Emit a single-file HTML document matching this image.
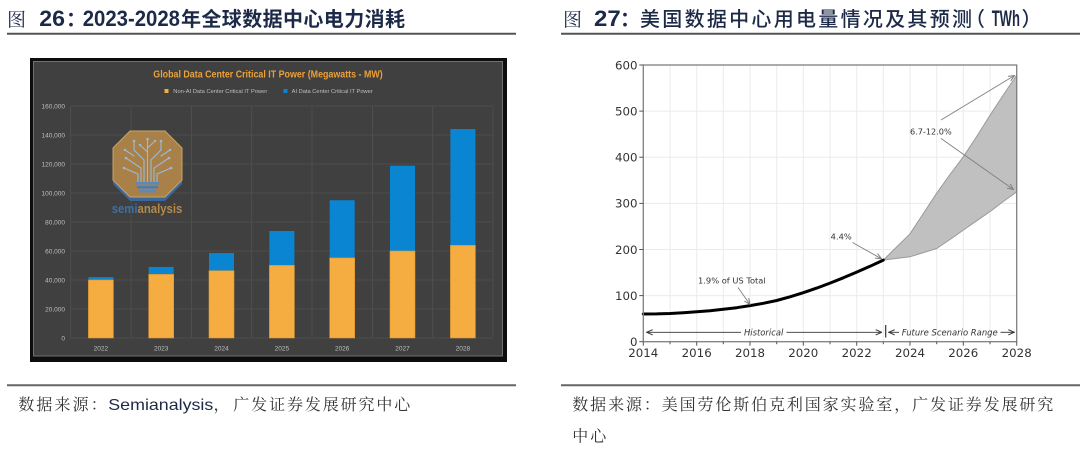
<!DOCTYPE html>
<html><head><meta charset="utf-8">
<style>
html,body{margin:0;padding:0;background:#fff;}
svg{display:block;}
</style></head><body>
<svg width="1080" height="452" viewBox="0 0 1080 452" xmlns="http://www.w3.org/2000/svg">
<defs>
<marker id="ad" markerUnits="userSpaceOnUse" markerWidth="8" markerHeight="8" viewBox="0 0 8 8" refX="7.5" refY="4" orient="auto"><path d="M1.5,1.4 L7.5,4 L1.5,6.6" fill="none" stroke="#333" stroke-width="1"/></marker>
<marker id="ag" markerUnits="userSpaceOnUse" markerWidth="8" markerHeight="8" viewBox="0 0 8 8" refX="7.5" refY="4" orient="auto"><path d="M1.5,1.4 L7.5,4 L1.5,6.6" fill="none" stroke="#808080" stroke-width="1"/></marker>
</defs>
<rect width="1080" height="452" fill="#fff"/>

<!-- ===== Titles ===== -->
<g fill="#1c2a48">
<text x="7" y="26" font-family="Noto Serif CJK SC, serif" font-size="19">图</text>
<text x="39.3" y="26" font-family="Liberation Sans, sans-serif" font-weight="bold" font-size="22" textLength="25.7" lengthAdjust="spacingAndGlyphs">26</text>
<text x="66" y="26" font-family="Noto Sans CJK SC, sans-serif" font-weight="bold" font-size="20">：</text>
<text x="82.7" y="26" font-family="Liberation Sans, sans-serif" font-weight="bold" font-size="22" textLength="97.3" lengthAdjust="spacingAndGlyphs">2023-2028</text>
<text x="181" y="26" font-family="Noto Sans CJK SC, sans-serif" font-weight="bold" font-size="20" textLength="224" lengthAdjust="spacing">年全球数据中心电力消耗</text>

<text x="563" y="26" font-family="Noto Serif CJK SC, serif" font-size="19">图</text>
<text x="594" y="26" font-family="Liberation Sans, sans-serif" font-weight="bold" font-size="22" textLength="26.7" lengthAdjust="spacingAndGlyphs">27</text>
<text x="620" y="26" font-family="Noto Sans CJK SC, sans-serif" font-weight="bold" font-size="20">：</text>
<text x="640" y="26" font-family="Noto Sans CJK SC, sans-serif" font-weight="500" font-size="20" textLength="332" lengthAdjust="spacing">美国数据中心用电量情况及其预测</text>
<text x="965" y="26" font-family="Noto Sans CJK SC, sans-serif" font-weight="500" font-size="20">（</text>
<text x="991.7" y="26" font-family="Liberation Sans, sans-serif" font-weight="bold" font-size="22" textLength="28.3" lengthAdjust="spacingAndGlyphs">TWh</text>
<text x="1021.5" y="26" font-family="Noto Sans CJK SC, sans-serif" font-weight="500" font-size="20">）</text>
</g>
<line x1="7" y1="33.8" x2="516" y2="33.8" stroke="#555" stroke-width="2"/>
<line x1="561" y1="33.8" x2="1080" y2="33.8" stroke="#555" stroke-width="2"/>

<!-- ===== Captions ===== -->
<line x1="7" y1="385.3" x2="516" y2="385.3" stroke="#666" stroke-width="2"/>
<line x1="561" y1="385.3" x2="1080" y2="385.3" stroke="#666" stroke-width="2"/>
<text x="18.3" y="410" font-family="Noto Serif CJK SC, serif" font-size="16" fill="#333" textLength="88.5" lengthAdjust="spacing">数据来源：</text>
<text x="108.3" y="410" font-family="Liberation Sans, sans-serif" font-size="16" fill="#1c2a48" textLength="105" lengthAdjust="spacingAndGlyphs">Semianalysis</text>
<text x="213.5" y="410" font-family="Noto Serif CJK SC, serif" font-size="16" fill="#333">，</text>
<text x="233.3" y="410" font-family="Noto Serif CJK SC, serif" font-size="16" fill="#333" textLength="177" lengthAdjust="spacing">广发证券发展研究中心</text>
<text x="572.3" y="410" font-family="Noto Serif CJK SC, serif" font-size="16" fill="#333" textLength="481" lengthAdjust="spacing">数据来源：美国劳伦斯伯克利国家实验室，广发证券发展研究</text>
<text x="572.3" y="441.5" font-family="Noto Serif CJK SC, serif" font-size="16" fill="#333" textLength="34" lengthAdjust="spacing">中心</text>

<!-- ===== Left chart ===== -->
<rect x="30" y="58" width="477" height="304" fill="#0d0d0d"/>
<rect x="33.5" y="61.5" width="469" height="294.5" fill="#404040" stroke="#707070" stroke-width="1"/>
<g stroke="#515151" stroke-width="0.8">
<line x1="70.7" y1="338" x2="493" y2="338"/>
<line x1="70.7" y1="309" x2="493" y2="309"/>
<line x1="70.7" y1="280" x2="493" y2="280"/>
<line x1="70.7" y1="251" x2="493" y2="251"/>
<line x1="70.7" y1="222" x2="493" y2="222"/>
<line x1="70.7" y1="193" x2="493" y2="193"/>
<line x1="70.7" y1="164" x2="493" y2="164"/>
<line x1="70.7" y1="135" x2="493" y2="135"/>
<line x1="70.7" y1="106" x2="493" y2="106"/>
<line x1="70.7" y1="106" x2="70.7" y2="338"/>
<line x1="131" y1="106" x2="131" y2="338"/>
<line x1="191.4" y1="106" x2="191.4" y2="338"/>
<line x1="251.7" y1="106" x2="251.7" y2="338"/>
<line x1="312" y1="106" x2="312" y2="338"/>
<line x1="372.4" y1="106" x2="372.4" y2="338"/>
<line x1="432.7" y1="106" x2="432.7" y2="338"/>
<line x1="493" y1="106" x2="493" y2="338"/>
</g>
<g font-family="Liberation Sans, sans-serif" font-size="6.5" fill="#bfbfbf" text-anchor="end">
<text x="65" y="340.3">0</text>
<text x="65" y="311.3">20,000</text>
<text x="65" y="282.3">40,000</text>
<text x="65" y="253.3">60,000</text>
<text x="65" y="224.3">80,000</text>
<text x="65" y="195.3">100,000</text>
<text x="65" y="166.3">120,000</text>
<text x="65" y="137.3">140,000</text>
<text x="65" y="108.3">160,000</text>
</g>
<g font-family="Liberation Sans, sans-serif" font-size="6.5" fill="#bfbfbf" text-anchor="middle">
<text x="100.9" y="350.3">2022</text>
<text x="161.2" y="350.3">2023</text>
<text x="221.5" y="350.3">2024</text>
<text x="281.9" y="350.3">2025</text>
<text x="342.2" y="350.3">2026</text>
<text x="402.5" y="350.3">2027</text>
<text x="462.9" y="350.3">2028</text>
</g>

<!-- logo -->
<polygon points="130,135 165,135 182,152 182,184 165,201 130,201 113,184 113,152" fill="#3b679a"/>
<polygon points="130,131 165,131 182,148 182,180 165,197 130,197 113,180 113,148" fill="#a98048" stroke="#c6a469" stroke-width="1"/>
<g stroke="#9bbad6" stroke-width="1.1" fill="none" stroke-linecap="round">
<path d="M147.5,182 L147.5,140"/>
<path d="M144,182 L144,160 L134,150 L134,142"/>
<path d="M151,182 L151,160 L161,150 L161,142"/>
<path d="M141,182 L141,168 L126,158"/>
<path d="M154,182 L154,168 L169,158"/>
<path d="M138,182 L138,174 L124,168"/>
<path d="M157,182 L157,174 L171,168"/>
<path d="M147.5,152 L140,145"/>
<path d="M147.5,148 L155,141"/>
<path d="M134,156 L125,150"/>
<path d="M161,156 L170,150"/>
</g>
<g fill="#9bbad6">
<circle cx="147.5" cy="139" r="1.3"/><circle cx="134" cy="141" r="1.3"/><circle cx="161" cy="141" r="1.3"/>
<circle cx="126" cy="158" r="1.3"/><circle cx="169" cy="158" r="1.3"/><circle cx="124" cy="168" r="1.3"/><circle cx="171" cy="168" r="1.3"/>
<circle cx="140" cy="145" r="1.2"/><circle cx="155" cy="141" r="1.2"/><circle cx="125" cy="150" r="1.2"/><circle cx="170" cy="150" r="1.2"/>
</g>
<rect x="136" y="182" width="23" height="2.5" fill="#5a89bd"/>
<rect x="137" y="186" width="21" height="2.5" fill="#4d7cb0"/>
<rect x="139" y="190" width="17" height="2.5" fill="#5a89bd"/>
<text x="111.7" y="213" font-family="Liberation Sans, sans-serif" font-weight="bold" font-size="12.5" textLength="70.6" lengthAdjust="spacingAndGlyphs"><tspan fill="#3d6fa5">semi</tspan><tspan fill="#b58a4a">analysis</tspan></text>

<!-- bars -->
<g fill="#0a85d1">
<rect x="88.4" y="277.1" width="25" height="4"/>
<rect x="148.7" y="266.95" width="25" height="8.5"/>
<rect x="209" y="253.03" width="25" height="18.5"/>
<rect x="269.4" y="230.99" width="25" height="35"/>
<rect x="329.7" y="200.25" width="25" height="58.5"/>
<rect x="390" y="165.74" width="25" height="86"/>
<rect x="450.4" y="129.06" width="25" height="117"/>
</g>
<g fill="#f5ad42" stroke="#d89530" stroke-width="0.6">
<rect x="88.4" y="280" width="25" height="58"/>
<rect x="148.7" y="274.35" width="25" height="63.65"/>
<rect x="209" y="270.72" width="25" height="67.28"/>
<rect x="269.4" y="265.36" width="25" height="72.64"/>
<rect x="329.7" y="257.96" width="25" height="80.04"/>
<rect x="390" y="251" width="25" height="87"/>
<rect x="450.4" y="245.35" width="25" height="92.65"/>
</g>

<text x="153.3" y="77.5" font-family="Liberation Sans, sans-serif" font-weight="bold" font-size="10" fill="#eba13a" textLength="229.4" lengthAdjust="spacingAndGlyphs">Global Data Center Critical IT Power (Megawatts - MW)</text>
<rect x="164.5" y="89" width="4" height="4" fill="#f5ad42"/>
<text x="173.3" y="93" font-family="Liberation Sans, sans-serif" font-size="5.5" fill="#bfbfbf" textLength="94" lengthAdjust="spacingAndGlyphs">Non-AI Data Center Critical IT Power</text>
<rect x="283.5" y="89" width="4" height="4" fill="#0a85d1"/>
<text x="291.7" y="93" font-family="Liberation Sans, sans-serif" font-size="5.5" fill="#bfbfbf" textLength="81" lengthAdjust="spacingAndGlyphs">AI Data Center Critical IT Power</text>

<!-- ===== Right chart ===== -->
<g stroke="#ebebeb" stroke-width="1">
<line x1="670" y1="65" x2="670" y2="341.7"/>
<line x1="696.7" y1="65" x2="696.7" y2="341.7"/>
<line x1="723.3" y1="65" x2="723.3" y2="341.7"/>
<line x1="750" y1="65" x2="750" y2="341.7"/>
<line x1="776.7" y1="65" x2="776.7" y2="341.7"/>
<line x1="803.3" y1="65" x2="803.3" y2="341.7"/>
<line x1="830" y1="65" x2="830" y2="341.7"/>
<line x1="856.7" y1="65" x2="856.7" y2="341.7"/>
<line x1="883.3" y1="65" x2="883.3" y2="341.7"/>
<line x1="910" y1="65" x2="910" y2="341.7"/>
<line x1="936.7" y1="65" x2="936.7" y2="341.7"/>
<line x1="963.3" y1="65" x2="963.3" y2="341.7"/>
<line x1="990" y1="65" x2="990" y2="341.7"/>
<line x1="643.3" y1="295.6" x2="1016.7" y2="295.6"/>
<line x1="643.3" y1="249.5" x2="1016.7" y2="249.5"/>
<line x1="643.3" y1="203.4" x2="1016.7" y2="203.4"/>
<line x1="643.3" y1="157.2" x2="1016.7" y2="157.2"/>
<line x1="643.3" y1="111.1" x2="1016.7" y2="111.1"/>
</g>
<polygon points="883.3,260.1 910,233.8 923,214 936.7,193.2 950,174.5 963.3,156.8 976.7,136.5 990,115.3 1003.3,95 1016.7,75.1 1016.7,191.8 1003.3,201.5 990,211.6 976.7,220.8 963.3,230.1 950,239.5 936.7,248.5 910,256.8" fill="#c0c0c0" stroke="#9a9a9a" stroke-width="1" stroke-linejoin="round"/>
<polyline points="643.3,314.0 656.7,313.9 670,313.5 683.3,312.8 696.7,311.8 710,310.7 723.3,309.3 736.7,307.7 750,305.6 763.3,303.3 776.7,300.5 790,296.8 803.3,292.7 816.7,288.1 830,283.1 843.3,277.8 856.7,272.1 870,266.3 883.3,260.1" fill="none" stroke="#000" stroke-width="3" stroke-linecap="round" stroke-linejoin="round"/>
<rect x="643.3" y="65" width="373.4" height="276.7" fill="none" stroke="#7f7f7f" stroke-width="1.3"/>
<g stroke="#555" stroke-width="1">
<line x1="639.3" y1="341.7" x2="643.3" y2="341.7"/>
<line x1="639.3" y1="295.6" x2="643.3" y2="295.6"/>
<line x1="639.3" y1="249.5" x2="643.3" y2="249.5"/>
<line x1="639.3" y1="203.4" x2="643.3" y2="203.4"/>
<line x1="639.3" y1="157.2" x2="643.3" y2="157.2"/>
<line x1="639.3" y1="111.1" x2="643.3" y2="111.1"/>
<line x1="639.3" y1="65" x2="643.3" y2="65"/>
<line x1="643.3" y1="341.7" x2="643.3" y2="345.7"/>
<line x1="670" y1="341.7" x2="670" y2="344.2"/>
<line x1="696.7" y1="341.7" x2="696.7" y2="345.7"/>
<line x1="723.3" y1="341.7" x2="723.3" y2="344.2"/>
<line x1="750" y1="341.7" x2="750" y2="345.7"/>
<line x1="776.7" y1="341.7" x2="776.7" y2="344.2"/>
<line x1="803.3" y1="341.7" x2="803.3" y2="345.7"/>
<line x1="830" y1="341.7" x2="830" y2="344.2"/>
<line x1="856.7" y1="341.7" x2="856.7" y2="345.7"/>
<line x1="883.3" y1="341.7" x2="883.3" y2="344.2"/>
<line x1="910" y1="341.7" x2="910" y2="345.7"/>
<line x1="936.7" y1="341.7" x2="936.7" y2="344.2"/>
<line x1="963.3" y1="341.7" x2="963.3" y2="345.7"/>
<line x1="990" y1="341.7" x2="990" y2="344.2"/>
<line x1="1016.7" y1="341.7" x2="1016.7" y2="345.7"/>
</g>
<g font-family="DejaVu Sans, sans-serif" font-size="11.8" fill="#333" text-anchor="end">
<text x="637.5" y="346">0</text>
<text x="637.5" y="299.9">100</text>
<text x="637.5" y="253.8">200</text>
<text x="637.5" y="207.7">300</text>
<text x="637.5" y="161.5">400</text>
<text x="637.5" y="115.4">500</text>
<text x="637.5" y="69.3">600</text>
</g>
<g font-family="DejaVu Sans, sans-serif" font-size="11.8" fill="#333" text-anchor="middle">
<text x="643.3" y="356.8">2014</text>
<text x="696.7" y="356.8">2016</text>
<text x="750" y="356.8">2018</text>
<text x="803.3" y="356.8">2020</text>
<text x="856.7" y="356.8">2022</text>
<text x="910" y="356.8">2024</text>
<text x="963.3" y="356.8">2026</text>
<text x="1016.7" y="356.8">2028</text>
</g>

<!-- annotations -->
<g font-family="DejaVu Sans, sans-serif" font-size="8.2" fill="#333">
<text x="698" y="283.6" textLength="67.7" lengthAdjust="spacingAndGlyphs">1.9% of US Total</text>
<text x="830.7" y="239.6" textLength="21" lengthAdjust="spacingAndGlyphs">4.4%</text>
<text x="910" y="134.6" textLength="41.7" lengthAdjust="spacingAndGlyphs">6.7-12.0%</text>
</g>
<g stroke="#808080" stroke-width="0.9" fill="none">
<line x1="738" y1="287.5" x2="750" y2="304.5" marker-end="url(#ag)"/>
<line x1="852.5" y1="242.5" x2="881.5" y2="258.8" marker-end="url(#ag)"/>
<line x1="941" y1="120" x2="1014.5" y2="75.5" marker-end="url(#ag)"/>
<line x1="941" y1="138.5" x2="1013.5" y2="189.5" marker-end="url(#ag)"/>
</g>
<g stroke="#333" stroke-width="0.9" fill="none">
<line x1="741" y1="332.3" x2="646.7" y2="332.3" marker-end="url(#ad)"/>
<line x1="786.5" y1="332.3" x2="881.7" y2="332.3" marker-end="url(#ad)"/>
<line x1="899" y1="332.3" x2="888.7" y2="332.3" marker-end="url(#ad)"/>
<line x1="1000.5" y1="332.3" x2="1014.3" y2="332.3" marker-end="url(#ad)"/>
</g>
<line x1="885.7" y1="325" x2="885.7" y2="337.5" stroke="#333" stroke-width="1.2"/>
<g font-family="DejaVu Sans, sans-serif" font-size="8.5" font-style="italic" fill="#333">
<text x="744" y="335.3" textLength="39.3" lengthAdjust="spacingAndGlyphs">Historical</text>
<text x="901.7" y="335.3" textLength="96" lengthAdjust="spacingAndGlyphs">Future Scenario Range</text>
</g>
</svg>
</body></html>
